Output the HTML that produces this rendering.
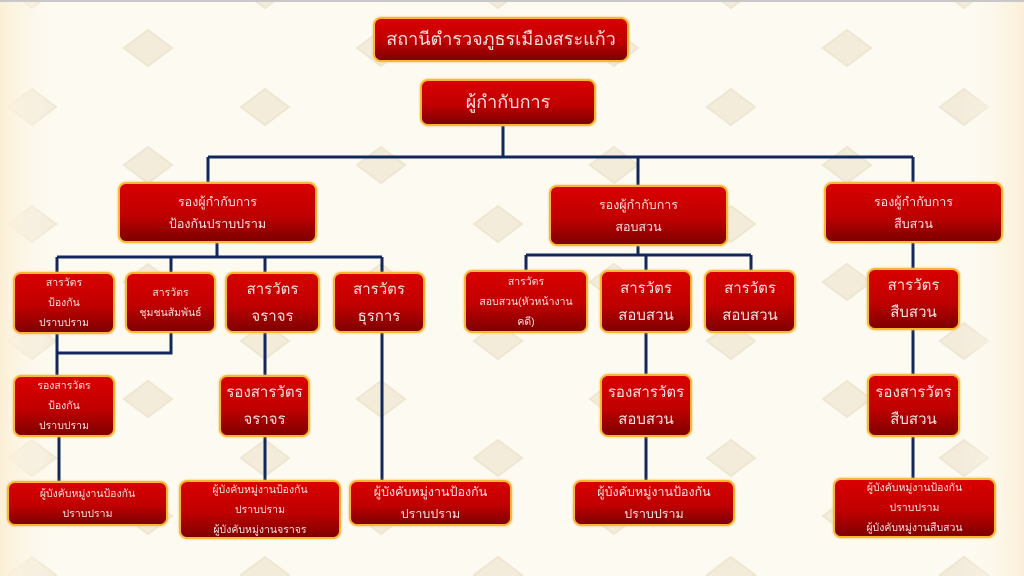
<!DOCTYPE html>
<html><head><meta charset="utf-8"><style>
html,body{margin:0;padding:0}
body{width:1024px;height:576px;position:relative;overflow:hidden;background:#fdfaf1;font-family:"Liberation Sans","DejaVu Sans",sans-serif}
.b{position:absolute;box-sizing:border-box;border:2px solid #f6b733;border-radius:8px;background:linear-gradient(#d90000 0%,#c00000 55%,#7e0000 100%);color:#f6e2e2;display:flex;flex-direction:column;justify-content:center;align-items:center;text-align:center;box-shadow:0 0 2px #f0c060}
.L{font-size:15px;line-height:27px}
.S{font-size:10.5px;line-height:20px}
.M{font-size:12.5px;line-height:22px}
</style></head><body>
<svg width="1024" height="576" style="position:absolute;left:0;top:0">
<defs>
<pattern id="p" width="233" height="117" patternUnits="userSpaceOnUse" x="32" y="-10">
<g fill="#f3ecdb" stroke="#efe6d2" stroke-width="2">
<path d="M116 40 L140 58 L116 76 L92 58 Z"/>
<path d="M0 -18 L24 0 L0 18 L-24 0 Z"/><path d="M233 -18 L257 0 L233 18 L209 0 Z"/>
<path d="M0 99 L24 117 L0 135 L-24 117 Z"/><path d="M233 99 L257 117 L233 135 L209 117 Z"/>
</g></pattern>
<linearGradient id="lg" x1="0" x2="1"><stop offset="0" stop-color="#fbefd6"/><stop offset="0.06" stop-color="#fdfaf1" stop-opacity="0"/><stop offset="0.94" stop-color="#fdfaf1" stop-opacity="0"/><stop offset="1" stop-color="#fbefd6"/></linearGradient>
</defs>
<rect width="1024" height="576" fill="url(#p)"/>
<rect width="1024" height="576" fill="url(#lg)"/>
<rect width="1024" height="2" fill="#c8c8c8"/>
<g stroke="#12285a" stroke-width="3" fill="none">
<path d="M503 126V157M208 157H913M208 157V182M638 157V185M913 157V182"/>
<path d="M217 243V257M57 257H382M57 257V272M171 257V272M265 257V272M382 257V272"/>
<path d="M57 334V375M171 333V353H57M59 437V481M265 333V375M265 437V480M382 333V480"/>
<path d="M638 246V255M526 255H751M526 255V270M646 255V270M751 255V270"/>
<path d="M646 333V374M646 437V480M913 243V268M913 330V374M913 437V478"/>
</g>
</svg>
<div class="b L" style="left:373px;top:17px;width:256px;height:45px;font-size:18px">สถานีตำรวจภูธรเมืองสระแก้ว</div>
<div class="b L" style="left:420px;top:79px;width:176px;height:47px;font-size:18px">ผู้กำกับการ</div>
<div class="b M" style="left:118px;top:182px;width:199px;height:61px">รองผู้กำกับการ<br>ป้องกันปราบปราม</div>
<div class="b M" style="left:549px;top:185px;width:179px;height:61px">รองผู้กำกับการ<br>สอบสวน</div>
<div class="b M" style="left:824px;top:182px;width:179px;height:61px">รองผู้กำกับการ<br>สืบสวน</div>
<div class="b S" style="left:13px;top:272px;width:102px;height:62px">สารวัตร<br>ป้องกัน<br>ปราบปราม</div>
<div class="b S" style="left:125px;top:272px;width:91px;height:61px">สารวัตร<br>ชุมชนสัมพันธ์</div>
<div class="b L" style="left:225px;top:272px;width:95px;height:61px">สารวัตร<br>จราจร</div>
<div class="b L" style="left:333px;top:272px;width:92px;height:61px">สารวัตร<br>ธุรการ</div>
<div class="b S" style="left:464px;top:270px;width:124px;height:63px">สารวัตร<br>สอบสวน(หัวหน้างาน<br>คดี)</div>
<div class="b L" style="left:600px;top:270px;width:92px;height:63px">สารวัตร<br>สอบสวน</div>
<div class="b L" style="left:704px;top:270px;width:92px;height:63px">สารวัตร<br>สอบสวน</div>
<div class="b L" style="left:867px;top:268px;width:93px;height:62px">สารวัตร<br>สืบสวน</div>
<div class="b S" style="left:13px;top:375px;width:102px;height:62px">รองสารวัตร<br>ป้องกัน<br>ปราบปราม</div>
<div class="b L" style="left:219px;top:375px;width:91px;height:62px">รองสารวัตร<br>จราจร</div>
<div class="b L" style="left:600px;top:374px;width:92px;height:63px">รองสารวัตร<br>สอบสวน</div>
<div class="b L" style="left:867px;top:374px;width:93px;height:63px">รองสารวัตร<br>สืบสวน</div>
<div class="b S" style="left:7px;top:481px;width:161px;height:45px">ผู้บังคับหมู่งานป้องกัน<br>ปราบปราม</div>
<div class="b S" style="left:179px;top:480px;width:162px;height:59px">ผู้บังคับหมู่งานป้องกัน<br>ปราบปราม<br>ผู้บังคับหมู่งานจราจร</div>
<div class="b M" style="left:349px;top:480px;width:163px;height:46px">ผู้บังคับหมู่งานป้องกัน<br>ปราบปราม</div>
<div class="b M" style="left:573px;top:480px;width:162px;height:46px">ผู้บังคับหมู่งานป้องกัน<br>ปราบปราม</div>
<div class="b S" style="left:833px;top:478px;width:163px;height:60px">ผู้บังคับหมู่งานป้องกัน<br>ปราบปราม<br>ผู้บังคับหมู่งานสืบสวน</div>
</body></html>
